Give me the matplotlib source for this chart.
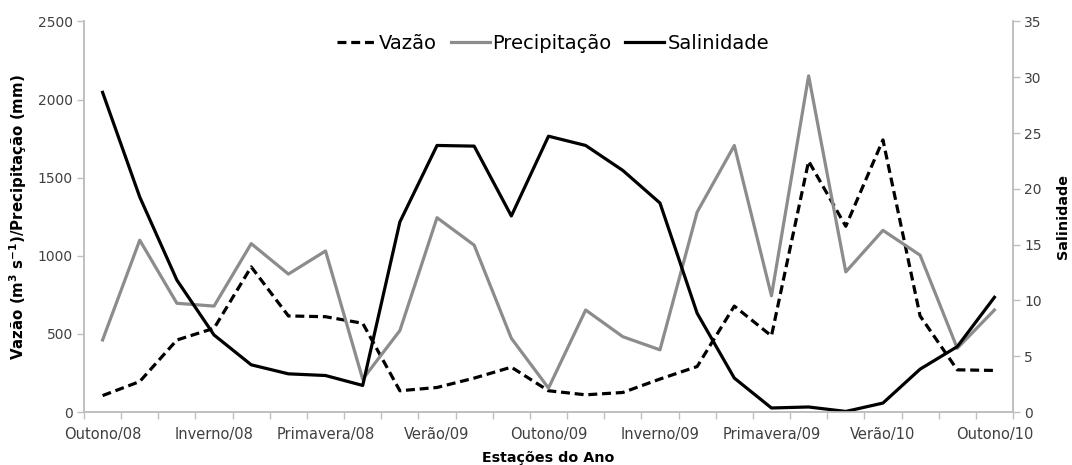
import matplotlib
matplotlib.use("Agg")
import matplotlib.pyplot as plt
import numpy as np

plt.rcParams['font.family'] = ['DejaVu Sans']
plt.rcParams['mathtext.default'] = 'bf'

tick_labels = ["Outono/08", "Inverno/08", "Primavera/08", "Verão/09", "Outono/09",
               "Inverno/09", "Primavera/09", "Verão/10", "Outono/10"]

vazao = [105, 195, 461, 536, 929, 615, 610, 568, 136, 157, 217, 287, 136,
         110, 125, 211, 291, 678, 487, 1606, 1189, 1742, 615, 270, 266]
precipitacao = [461, 1100, 696, 678, 1078, 883, 1031, 210, 521, 1244, 1068, 472, 153,
                653, 482, 398, 1280, 1706, 744, 2152, 897, 1163, 1004, 408, 653]
salinidade = [28.65, 19.27, 11.82, 6.9, 4.23, 3.42, 3.27, 2.38, 17.03, 23.89, 23.83, 17.57, 24.72,
              23.89, 21.65, 18.73, 8.85, 3.04, 0.36, 0.45, 0.05, 0.8, 3.84, 5.86, 10.28]

n = len(vazao)
x = np.arange(n)

axis_gray = "#bfbfbf"
text_gray = "#404040"

fig = plt.figure(figsize=(10.72, 4.65), dpi=100)
ax = fig.add_axes([84/1072, 1 - 412/465, (1013-84)/1072, (412-21.5)/465])
ax2 = ax.twinx()

lw = 2.3
l1, = ax.plot(x, vazao, color="black", lw=lw, dashes=(2.8, 1.5), label="Vazão")
l2, = ax.plot(x, precipitacao, color="#8c8c8c", lw=lw, label="Precipitação")
l3, = ax2.plot(x, salinidade, color="black", lw=lw, label="Salinidade")

ax.set_xlim(-0.5, n - 0.5)
ax.set_ylim(0, 2500)
ax2.set_ylim(0, 35)
ax.set_yticks(np.arange(0, 2501, 500))
ax2.set_yticks(np.arange(0, 36, 5))

# category boundaries as major ticks, labels on minor ticks
ax.set_xticks(np.arange(-0.5, n, 1.0))
ax.set_xticklabels([])
ax.set_xticks(np.arange(0, n, 3), minor=True)
ax.set_xticklabels(tick_labels, minor=True)
ax.tick_params(axis='x', which='major', length=5, width=1, color=axis_gray, direction='out')
ax.tick_params(axis='x', which='minor', length=0, pad=11, labelsize=10.5, labelcolor=text_gray)
ax.tick_params(axis='y', length=5, width=1, color=axis_gray, labelsize=10, labelcolor=text_gray, pad=3)
ax2.tick_params(axis='y', length=5, width=1, color=axis_gray, labelsize=10, labelcolor=text_gray, pad=3)

for a in (ax, ax2):
    a.spines['top'].set_visible(False)
    for s in ('left', 'right', 'bottom'):
        a.spines[s].set_color(axis_gray)
        a.spines[s].set_linewidth(1.2)

ax.set_xlabel("Estações do Ano", fontsize=10.3, fontweight='bold', labelpad=6)
ax.set_ylabel(r"Vazão (m$^{\mathbf{3}}$ s$^{\mathbf{-1}}$)/Precipitação (mm)", fontsize=10.8,
              fontweight='bold', labelpad=6)
ax2.set_ylabel("Salinidade", fontsize=10.3, fontweight='bold', labelpad=10)

leg = ax.legend(handles=[l1, l2, l3], loc='upper center', bbox_to_anchor=(0.505, 1.0),
                ncol=3, frameon=False, fontsize=14, handlelength=2.0,
                handletextpad=0.15, columnspacing=0.7, borderaxespad=0.25)
for t in leg.get_texts():
    t.set_color("#000000")

fig.savefig("out.png", dpi=100)
